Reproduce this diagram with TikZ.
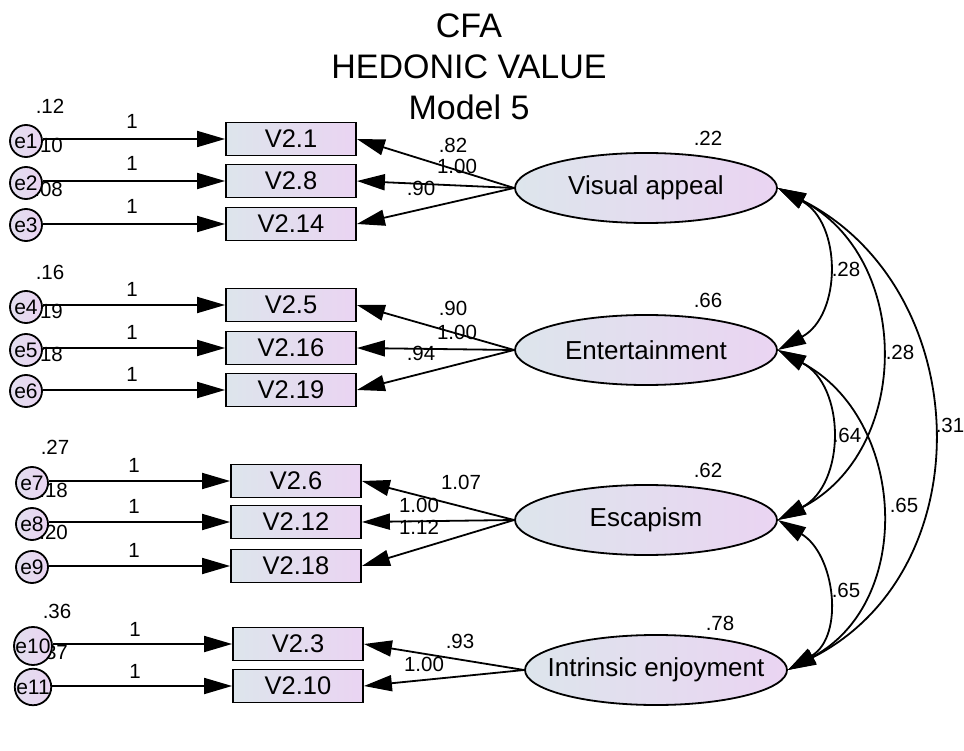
\documentclass[tikz,border=0pt]{standalone}
\usepackage{fontspec}
\setmainfont{Liberation Sans}
\usetikzlibrary{arrows.meta,shapes.geometric}
\definecolor{gl}{HTML}{DDE5EC}
\definecolor{gr}{HTML}{EAD4F2}
\begin{document}
\begin{tikzpicture}[x=1pt,y=-1pt,
  obs/.style={draw, line width=1.8pt, left color=gl, right color=gr, minimum width=130pt, minimum height=33pt, inner sep=0pt, font=\fontsize{25.5}{30}\selectfont},
  lat/.style={ellipse, draw, line width=1.8pt, left color=gl, right color=gr, minimum width=262pt, minimum height=70pt, inner sep=0pt, font=\fontsize{26}{30}\selectfont},
  err/.style={circle, draw, line width=1.8pt, left color=gl!60!gr, right color=gr, minimum size=32pt, inner sep=0pt, font=\fontsize{21}{24}\selectfont},
  num/.style={font=\fontsize{20.5}{24}\selectfont, inner sep=0pt},
  ttl/.style={font=\fontsize{34}{40}\selectfont, inner sep=0pt},
  arr/.style={line width=1.8pt, -{Triangle[length=28pt,width=16pt]}},
  cov/.style={line width=1.8pt, {Triangle[length=28pt,width=16pt]}-{Triangle[length=28pt,width=16pt]}},
]
\useasboundingbox (0,0) rectangle (964,751);

% title
\node[ttl] (t1) at (469,26) {CFA};
\node[ttl] (t2) at (469,67) {HEDONIC VALUE};
\node[ttl] (t3) at (469,107) {Model 5};

% error variance labels (drawn before circles)
\node[num] (v1) at (50,106) {.12};
\node[num, anchor=base east] (v2) at (63,153) {.10};
\node[num, anchor=base east] (v3) at (63,197) {.08};
\node[num] (v4) at (50,272) {.16};
\node[num, anchor=base east] (v5) at (63,319) {.19};
\node[num, anchor=base east] (v6) at (63,362) {.18};
\node[num] (v7) at (55,447) {.27};
\node[num, anchor=base east] (v8) at (68,497) {.18};
\node[num, anchor=base east] (v9) at (68,539) {.20};
\node[num] (v10) at (57,611) {.36};
\node[num, anchor=base east] (v11) at (68,659) {.37};

% observed variables
\node[obs] (b1) at (291,139) {V2.1};
\node[obs] (b2) at (291,181) {V2.8};
\node[obs] (b3) at (291,224) {V2.14};
\node[obs] (b4) at (291,305) {V2.5};
\node[obs] (b5) at (291,348) {V2.16};
\node[obs] (b6) at (291,390) {V2.19};
\node[obs] (b7) at (296,481) {V2.6};
\node[obs] (b8) at (296,522) {V2.12};
\node[obs] (b9) at (296,566) {V2.18};
\node[obs] (b10) at (298,644) {V2.3};
\node[obs] (b11) at (298,686) {V2.10};

% error terms
\node[err] (e1) at (26,141) {e1};
\node[err] (e2) at (26,183) {e2};
\node[err] (e3) at (26,225) {e3};
\node[err] (e4) at (26,307) {e4};
\node[err] (e5) at (26,350) {e5};
\node[err] (e6) at (26,391) {e6};
\node[err] (e7) at (32,483) {e7};
\node[err] (e8) at (32,524) {e8};
\node[err] (e9) at (32,567) {e9};
\node[err] (e10) at (33,646) {e10};
\node[err] (e11) at (33,687) {e11};

% latent variables
\node[lat] (va) at (646,188) {\makebox[0pt]{Visual appeal}};
\node[lat] (en) at (646,350) {\makebox[0pt]{Entertainment}};
\node[lat] (es) at (646,520) {\makebox[0pt]{Escapism}};
\node[lat] (ie) at (656,670) {\makebox[0pt]{Intrinsic enjoyment}};

% error paths
\foreach \i in {1,...,11} \draw[arr] (e\i.east |- b\i.west) -- (b\i.west);
\node[num] (o1) at (132,121) {1};
\node[num] (o2) at (132,163) {1};
\node[num] (o3) at (132,206) {1};
\node[num] (o4) at (132,289) {1};
\node[num] (o5) at (132,332) {1};
\node[num] (o6) at (132,374) {1};
\node[num] (o7) at (134,465) {1};
\node[num] (o8) at (134,506) {1};
\node[num] (o9) at (134,550) {1};
\node[num] (o10) at (135,629) {1};
\node[num] (o11) at (135,671) {1};

% loadings
\draw[arr] (va.west) -- (b1.east);
\draw[arr] (va.west) -- (b2.east);
\draw[arr] (va.west) -- (b3.east);
\draw[arr] (en.west) -- (b4.east);
\draw[arr] (en.west) -- (b5.east);
\draw[arr] (en.west) -- (b6.east);
\draw[arr] (es.west) -- (b7.east);
\draw[arr] (es.west) -- (b8.east);
\draw[arr] (es.west) -- (b9.east);
\draw[arr] (ie.west) -- (b10.east);
\draw[arr] (ie.west) -- (b11.east);

\node[num] (l1) at (453,145) {.82};
\node[num] (l2) at (457,166) {1.00};
\node[num] (l3) at (421,188) {.90};
\node[num] (l4) at (453,308) {.90};
\node[num] (l5) at (457,332) {1.00};
\node[num] (l6) at (421,353) {.94};
\node[num] (l7) at (461,482) {1.07};
\node[num] (l8) at (419,505) {1.00};
\node[num] (l9) at (419,527) {1.12};
\node[num] (l10) at (460,641) {.93};
\node[num] (l11) at (424,664) {1.00};

% variances of latents
\node[num] (r1) at (708,138) {.22};
\node[num] (r2) at (708,300) {.66};
\node[num] (r3) at (708,470) {.62};
\node[num] (r4) at (720,623) {.78};

% covariances
\draw[cov] (va.east) .. controls +(64,35) and +(64,-35) .. (en.east);
\draw[cov] (va.east) .. controls +(134.5,69.7) and +(134.5,-69.7) .. (es.east);
\draw[cov] (va.east) .. controls +(197,100) and +(197,-100) .. (ie.east);
\draw[cov] (en.east) .. controls +(68,36) and +(68,-36) .. (es.east);
\draw[cov] (en.east) .. controls +(128,68) and +(128,-68) .. (ie.east);
\draw[cov] (es.east) .. controls +(57,34) and +(57,-34) .. (ie.east);

\node[num] (c1) at (846,269) {.28};
\node[num] (c2) at (900,352) {.28};
\node[num] (c3) at (950,425) {.31};
\node[num] (c4) at (847,435) {.64};
\node[num] (c5) at (904,505) {.65};
\node[num] (c6) at (846,590) {.65};
\end{tikzpicture}
\end{document}
